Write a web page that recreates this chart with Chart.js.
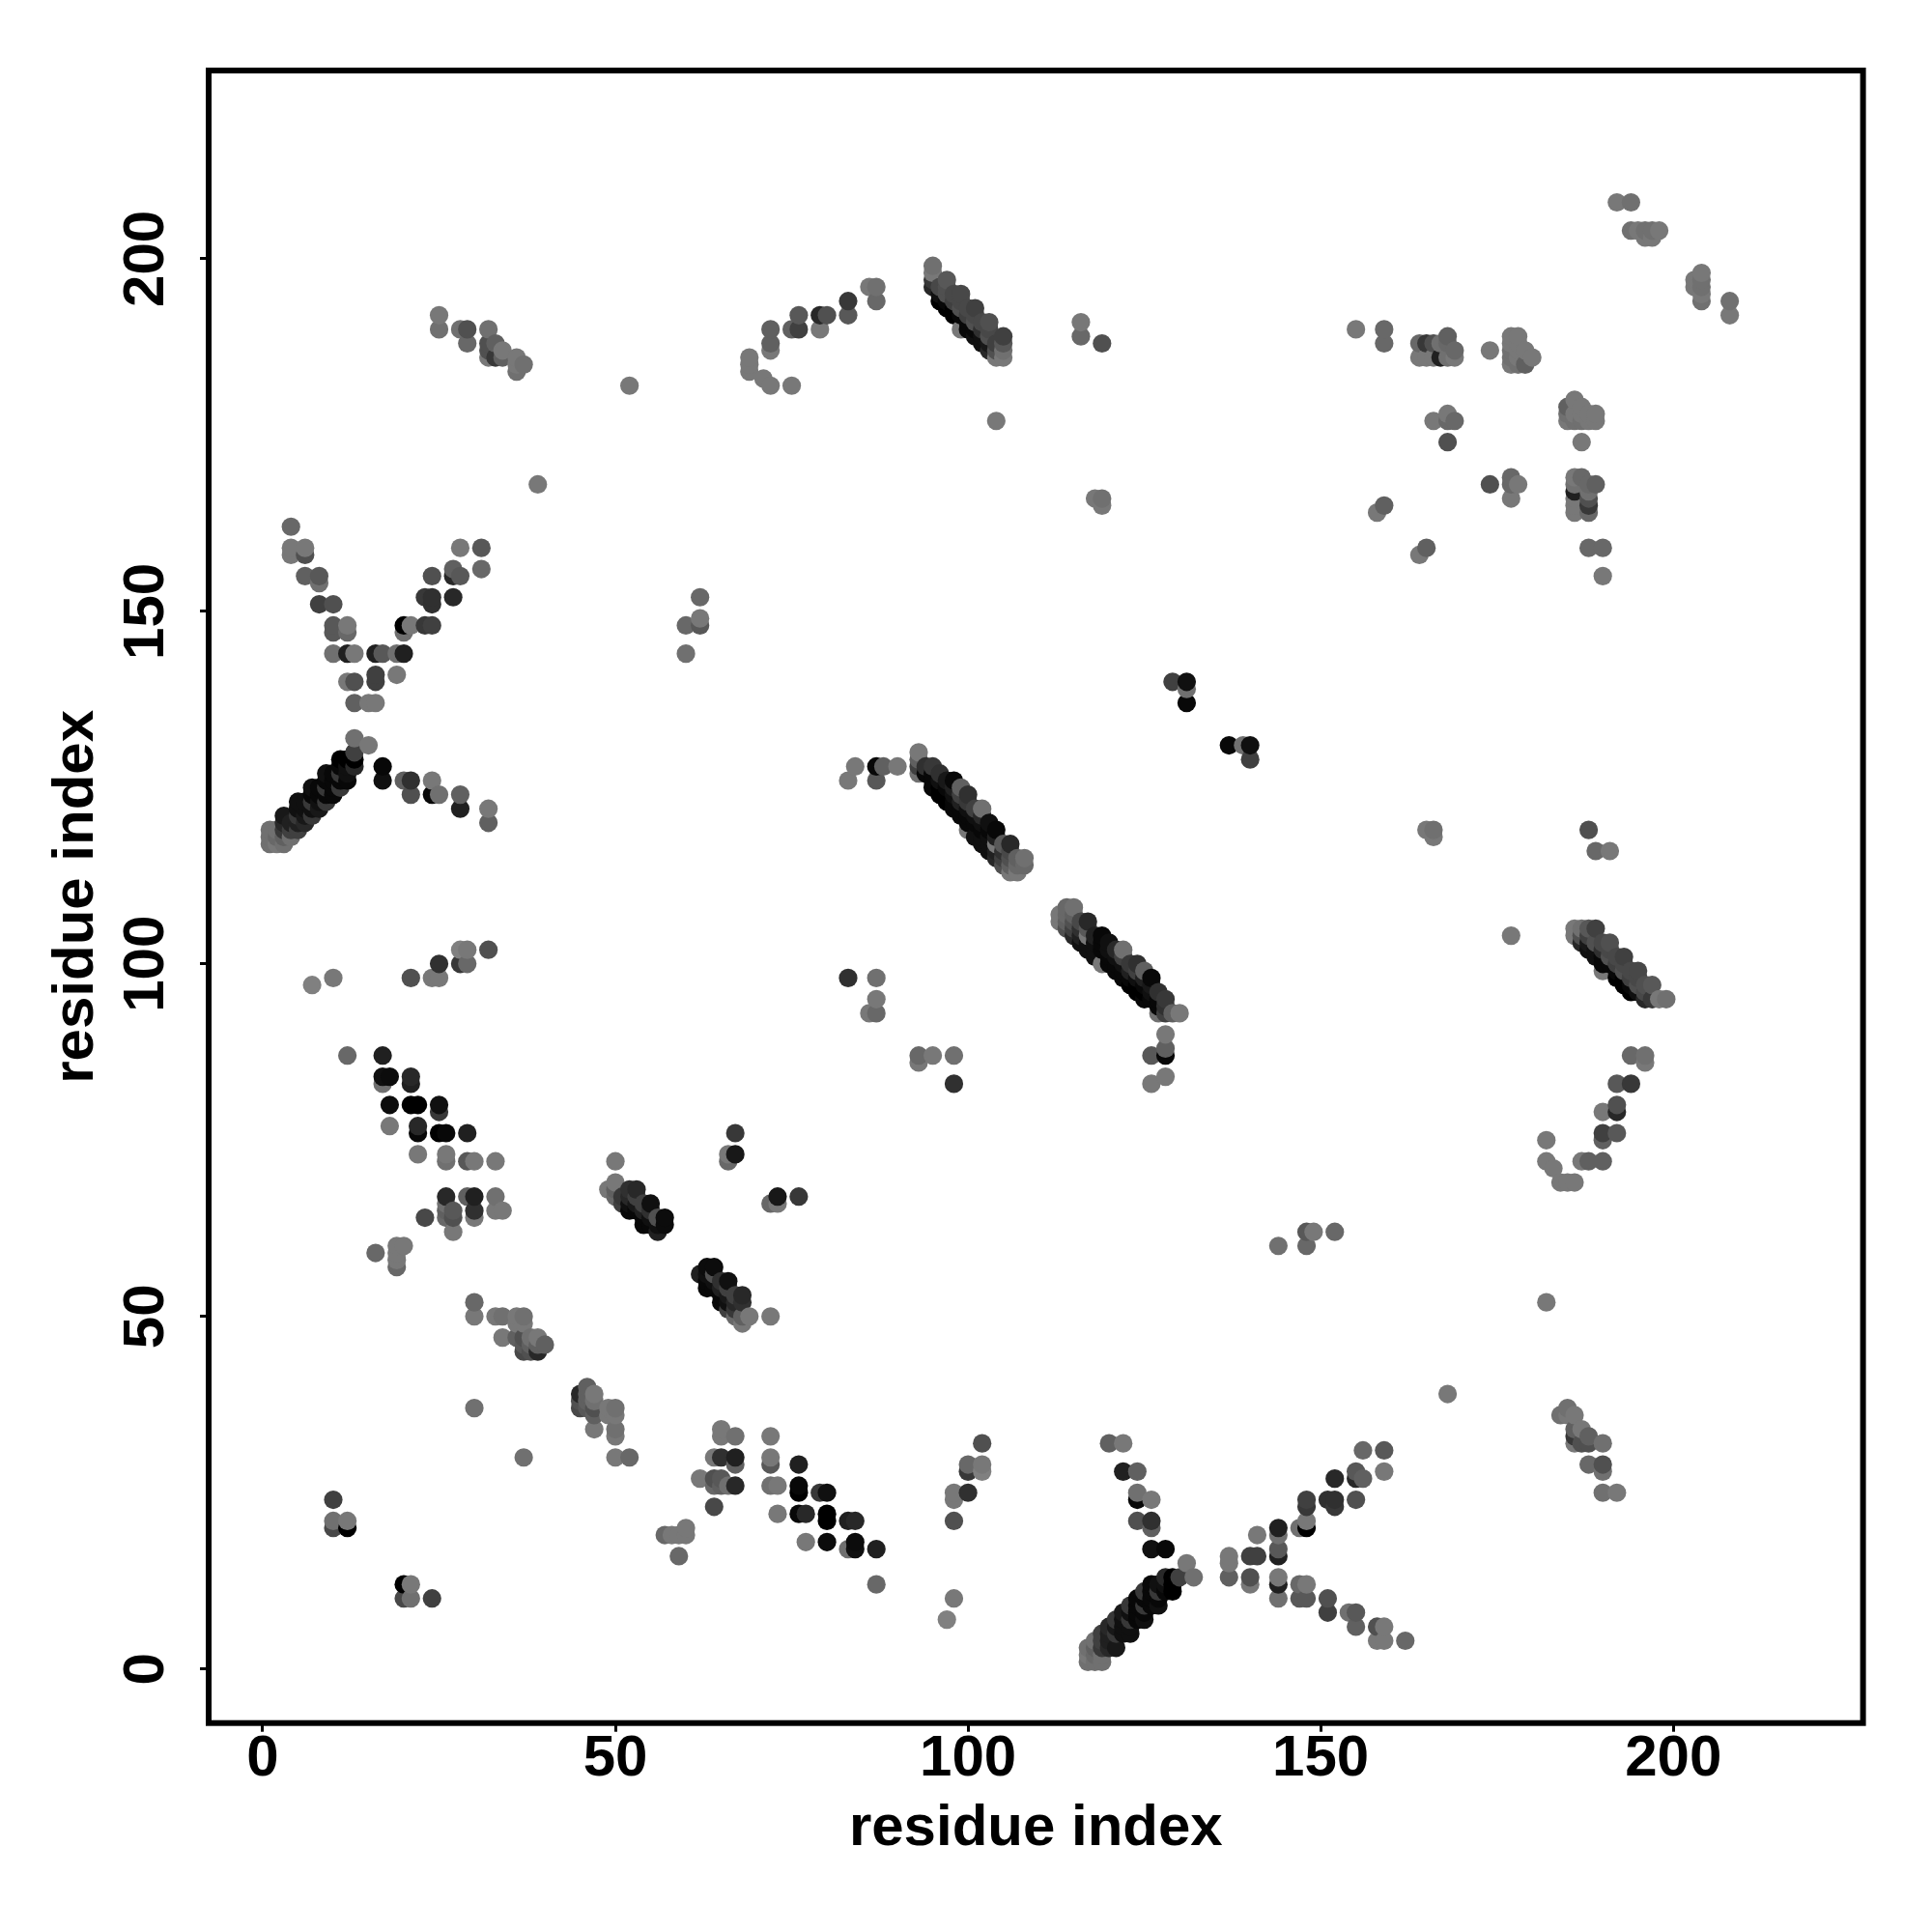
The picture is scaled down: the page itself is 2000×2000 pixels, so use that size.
<!DOCTYPE html>
<html><head><meta charset="utf-8">
<script src="https://cdn.jsdelivr.net/npm/chart.js@4/dist/chart.umd.min.js"></script>
<style>html,body{margin:0;padding:0;background:#fff}canvas{display:block}</style></head>
<body><canvas id="c" width="2000" height="2000"></canvas>
<script>
// rows: residue i, residue j (i<j), grey level of the contact
const tickValues=[0,50,100,150,200];
const axisTitle="residue index";
const parallelSheet=[[1,117,0x70],[1,118,0x70],[1,119,0x70],[2,117,0x78],[2,118,0x68],[2,119,0x70],[3,117,0x70],[3,118,0x60],[3,119,0x38],[3,120,0x28],[3,121,0x18],[4,118,0x70],[4,119,0x40],[4,120,0x20],[5,119,0x40],[5,120,0x20],[5,121,0x38],[5,122,0x10],[5,123,0x10],[6,120,0x28],[6,121,0x18],[6,122,0x10],[6,123,0x10],[7,121,0x38],[7,122,0x10],[7,123,0x38],[7,124,0x08],[7,125,0x10],[8,122,0x18],[8,123,0x10],[8,124,0x08],[8,125,0x08],[9,123,0x38],[9,124,0x08],[9,125,0x38],[9,126,0x08],[9,127,0x10],[10,124,0x08],[10,125,0x08],[10,126,0x08],[10,127,0x08],[11,125,0x38],[11,126,0x08],[11,127,0x38],[11,128,0x08],[11,129,0x00],[12,126,0x08],[12,127,0x10],[12,128,0x10],[12,129,0x00],[13,128,0x28],[13,129,0x00],[13,130,0x40],[13,132,0x70],[15,131,0x78]];
const nearLeft=[[10,20,0x48],[10,21,0x70],[10,24,0x40],[12,20,0x00],[12,21,0x78],[16,59,0x68],[19,57,0x68],[19,58,0x78],[19,59,0x78],[19,60,0x78],[20,60,0x78],[30,37,0x70],[30,50,0x78],[30,52,0x68],[33,50,0x78],[34,47,0x78],[34,50,0x70],[36,47,0x60],[36,49,0x78],[36,50,0x78],[37,45,0x48],[37,46,0x58],[37,47,0x50],[37,49,0x78],[37,50,0x70],[38,45,0x50],[38,46,0x60],[38,47,0x70],[39,45,0x28],[39,46,0x60],[39,47,0x78],[40,46,0x60],[33,65,0x78],[34,65,0x78],[33,67,0x70],[30,64,0x78],[30,65,0x30],[30,67,0x20],[29,67,0x60],[27,62,0x78],[27,64,0x50],[27,65,0x58],[26,64,0x68],[26,65,0x60],[26,66,0x70],[26,67,0x28],[23,64,0x48]];
const midLeft=[[12,87,0x68],[17,83,0x70],[17,84,0x10],[17,87,0x20],[18,77,0x78],[18,80,0x0c],[18,84,0x0c],[21,80,0x00],[21,83,0x20],[21,84,0x28],[22,73,0x78],[22,76,0x08],[22,77,0x28],[22,80,0x00],[25,76,0x00],[25,79,0x38],[25,80,0x10],[26,72,0x70],[26,73,0x78],[26,76,0x08],[29,72,0x58],[29,76,0x20],[30,72,0x78],[33,72,0x78],[7,97,0x80],[10,98,0x78],[21,98,0x50],[24,98,0x78],[25,98,0x78],[25,100,0x30],[28,100,0x38],[28,102,0x80],[29,100,0x68],[29,102,0x78],[32,102,0x50],[20,126,0x60],[21,124,0x50],[21,126,0x30],[24,124,0x08],[24,126,0x78],[25,124,0x70],[28,122,0x20],[28,124,0x60],[32,120,0x60],[32,122,0x78],[17,126,0x10],[17,128,0x08]];
const upperCross=[[4,158,0x78],[4,159,0x78],[4,162,0x68],[6,155,0x60],[6,158,0x50],[6,159,0x78],[8,151,0x40],[8,154,0x70],[8,155,0x58],[10,144,0x70],[10,147,0x58],[10,148,0x58],[10,151,0x50],[12,140,0x78],[12,144,0x20],[12,147,0x68],[12,148,0x78],[13,137,0x60],[13,140,0x50],[13,144,0x78],[15,137,0x78],[16,137,0x78],[16,140,0x40],[16,141,0x40],[16,144,0x20],[17,144,0x58],[19,141,0x78],[19,144,0x70],[20,144,0x20],[20,147,0x70],[20,148,0x00],[21,148,0x78],[23,148,0x38],[23,152,0x38],[24,148,0x40],[24,151,0x30],[24,152,0x30],[24,155,0x50],[27,152,0x28],[27,155,0x28],[27,156,0x60],[28,155,0x58],[28,159,0x78],[31,156,0x68],[31,159,0x58]];
const topLeft=[[25,190,0x70],[25,192,0x78],[28,190,0x70],[29,188,0x68],[29,190,0x50],[32,186,0x78],[32,187,0x50],[32,188,0x50],[32,190,0x70],[33,186,0x38],[33,188,0x60],[34,186,0x60],[34,187,0x78],[36,184,0x70],[36,185,0x78],[36,186,0x78],[37,185,0x70],[39,168,0x78],[52,182,0x78],[60,144,0x70],[60,148,0x68],[62,148,0x58],[62,149,0x78],[62,152,0x68],[69,184,0x78],[69,185,0x78],[69,186,0x78],[71,183,0x78],[72,182,0x78],[75,182,0x78],[72,187,0x78],[72,188,0x60],[72,190,0x60],[75,190,0x60],[76,190,0x40],[76,192,0x58],[79,190,0x78],[79,192,0x28],[80,192,0x50],[83,192,0x58],[83,194,0x38],[86,196,0x78],[87,194,0x68],[87,196,0x70]];
const hairpin=[[49,68,0x78],[50,67,0x68],[50,68,0x60],[50,69,0x78],[50,72,0x78],[51,66,0x40],[51,67,0x38],[52,65,0x08],[52,66,0x10],[52,67,0x28],[52,68,0x30],[53,65,0x08],[53,66,0x18],[53,67,0x40],[53,68,0x28],[54,63,0x08],[54,64,0x08],[54,65,0x20],[54,66,0x40],[55,63,0x08],[55,64,0x10],[55,65,0x30],[55,66,0x10],[56,62,0x20],[56,63,0x10],[56,64,0x50],[57,63,0x0c],[57,64,0x0c],[66,72,0x68],[66,73,0x78],[67,73,0x18],[67,76,0x38],[83,98,0x30],[86,93,0x78],[87,93,0x68],[87,95,0x78],[87,98,0x70],[83,126,0x78],[84,128,0x78],[87,126,0x58],[87,128,0x08],[88,128,0x60],[90,128,0x78]];
const antiSheetA=[[107,113,0x78],[106,113,0x78],[108,114,0x68],[107,114,0x68],[106,114,0x60],[105,114,0x50],[108,115,0x70],[107,115,0x60],[106,115,0x50],[105,115,0x40],[104,115,0x28],[106,116,0x48],[105,116,0x30],[104,116,0x20],[103,116,0x10],[106,117,0x28],[105,117,0x58],[104,117,0x78],[103,117,0x10],[102,117,0x10],[104,118,0x20],[103,118,0x10],[102,118,0x10],[101,118,0x10],[104,119,0x08],[103,119,0x08],[102,119,0x08],[100,119,0x78],[103,120,0x10],[102,120,0x10],[101,120,0x08],[100,120,0x08],[102,121,0x28],[101,121,0x10],[100,121,0x08],[99,121,0x08],[102,122,0x70],[101,122,0x40],[100,122,0x10],[99,122,0x08],[98,122,0x08],[100,123,0x38],[99,123,0x20],[98,123,0x08],[97,123,0x00],[100,124,0x30],[99,124,0x40],[98,124,0x10],[97,124,0x00],[96,124,0x00],[99,125,0x60],[98,125,0x20],[97,125,0x08],[96,125,0x00],[95,125,0x08],[98,126,0x08],[97,126,0x18],[96,126,0x10],[95,126,0x08],[96,127,0x30],[95,127,0x08],[94,127,0x08],[93,127,0x70],[95,128,0x38],[94,128,0x30],[93,128,0x40],[93,129,0x60],[93,130,0x78]];
const antiSheetB=[[105,186,0x78],[105,187,0x70],[105,188,0x58],[105,189,0x40],[104,186,0x78],[104,187,0x50],[104,188,0x40],[103,187,0x28],[103,188,0x18],[103,189,0x50],[103,190,0x48],[103,191,0x50],[102,188,0x10],[102,189,0x10],[102,190,0x30],[102,191,0x48],[101,189,0x10],[101,190,0x08],[101,191,0x50],[101,192,0x48],[101,193,0x40],[100,190,0x08],[100,191,0x08],[100,192,0x40],[100,193,0x48],[99,190,0x78],[99,192,0x08],[99,193,0x50],[99,194,0x48],[99,195,0x48],[98,192,0x00],[98,193,0x00],[98,194,0x40],[98,195,0x48],[97,193,0x00],[97,194,0x08],[97,195,0x50],[97,196,0x50],[97,197,0x58],[96,194,0x00],[96,195,0x10],[96,196,0x48],[95,196,0x28],[95,197,0x38],[95,198,0x78],[95,199,0x70]];
const farRight=[[104,177,0x78],[116,189,0x68],[116,191,0x78],[118,166,0x78],[119,165,0x78],[119,166,0x70],[119,188,0x50],[129,140,0x40],[131,137,0x08],[131,139,0x70],[131,140,0x10],[155,190,0x78],[158,164,0x78],[159,165,0x60],[159,188,0x68],[159,190,0x68],[164,186,0x78],[164,188,0x68],[165,186,0x78],[165,188,0x38],[166,177,0x78],[166,186,0x78],[166,188,0x50],[167,186,0x20],[167,188,0x70],[168,174,0x50],[168,177,0x68],[168,178,0x78],[168,186,0x70],[168,188,0x68],[168,189,0x60],[169,177,0x68],[169,186,0x78],[169,187,0x68],[174,187,0x78],[177,185,0x78],[177,186,0x70],[177,187,0x70],[177,188,0x78],[177,189,0x78],[178,185,0x70],[178,186,0x78],[178,187,0x78],[178,188,0x78],[178,189,0x78],[179,185,0x60],[179,187,0x78],[180,186,0x78],[192,208,0x78],[194,208,0x70],[194,204,0x70],[195,204,0x78],[196,203,0x78],[196,204,0x70],[197,203,0x78],[197,204,0x70],[198,204,0x78]];

const contacts=[parallelSheet,nearLeft,midLeft,upperCross,topLeft,hairpin,antiSheetA,antiSheetB,farRight].flat();
const points=contacts.flatMap(([i,j,g])=>[{x:i,y:j,g},{x:j,y:i,g}]).sort((a,b)=>a.x-b.x||a.y-b.y);

const labelFont={family:'"Liberation Sans",Arial,sans-serif',size:60,weight:'bold'};
const frame={id:'frame',afterDraw(ch){const a=ch.chartArea,c=ch.ctx;c.save();c.strokeStyle='#000';c.lineWidth=6;c.lineJoin='miter';c.strokeRect(a.left,a.top,a.right-a.left,a.bottom-a.top);c.restore();}};
const setTicks=s=>{s.ticks=tickValues.map(v=>({value:v}));};
new Chart(document.getElementById('c'),{
 type:'scatter',
 data:{datasets:[{data:points,showLine:false,pointRadius:9.6,pointHoverRadius:9.6,pointBorderWidth:0,
   pointBackgroundColor:points.map(p=>`rgb(${p.g},${p.g},${p.g})`)}]},
 options:{responsive:false,animation:false,devicePixelRatio:1,
  layout:{padding:{top:73,right:71.4,left:0,bottom:0}},
  plugins:{legend:{display:false},tooltip:{enabled:false}},
  scales:{
   x:{type:'linear',min:-7.67,max:226.9,afterBuildTicks:setTicks,afterFit:s=>{s.height=216.3;},
    border:{display:false},grid:{drawOnChartArea:false,drawTicks:true,color:'#000',lineWidth:3,tickLength:9},
    ticks:{color:'#000',font:labelFont,padding:-7,autoSkip:false,maxRotation:0,minRotation:0,callback:v=>String(v)},
    title:{display:true,text:axisTitle,color:'#000',font:labelFont,padding:{top:0,bottom:71}}},
   y:{type:'linear',min:-7.67,max:226.7,afterBuildTicks:setTicks,afterFit:s=>{s.width=216;},
    border:{display:false},grid:{drawOnChartArea:false,drawTicks:true,color:'#000',lineWidth:3,tickLength:9},
    ticks:{color:'#000',font:labelFont,padding:4,autoSkip:false,minRotation:90,maxRotation:90,crossAlign:'center',callback:v=>String(v)},
    title:{display:true,text:axisTitle,color:'#000',font:labelFont,padding:{top:43,bottom:0}}}
  }},
 plugins:[frame]
});
</script></body></html>
